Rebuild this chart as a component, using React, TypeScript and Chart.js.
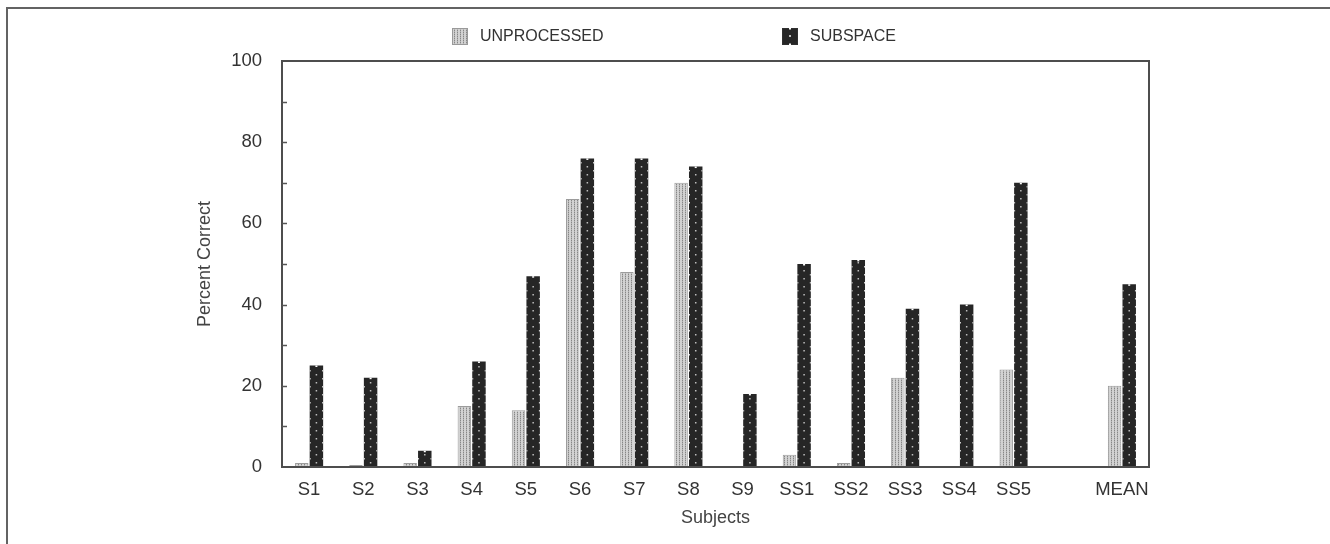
import React, { useEffect, useRef } from 'react';
import { Chart, registerables } from 'chart.js';

Chart.register(...registerables);

const categories = ['S1', 'S2', 'S3', 'S4', 'S5', 'S6', 'S7', 'S8', 'S9', 'SS1', 'SS2', 'SS3', 'SS4', 'SS5', '', 'MEAN'];
const unprocessedValues = [1, 0.5, 1, 15, 14, 66, 48, 70, 0, 3, 1, 22, 0, 24, null, 20];
const subspaceValues = [25, 22, 4, 26, 47, 76, 76, 74, 18, 50, 51, 39, 40, 70, null, 45];
const seriesNames = ['UNPROCESSED', 'SUBSPACE'];
const yTickValues = [0, 20, 40, 60, 80, 100];
const yMinorTickValues = [10, 20, 30, 40, 50, 60, 70, 80, 90];
const yTitle = 'Percent Correct';
const xTitle = 'Subjects';

const FONT = "'Liberation Sans', Arial, Helvetica, sans-serif";

function makeUnprocessedPattern(): CanvasPattern | string {
  const c = document.createElement('canvas');
  c.width = 3;
  c.height = 2;
  const g = c.getContext('2d');
  if (!g) return '#c4c4c4';
  g.fillStyle = '#d2d2d2';
  g.fillRect(0, 0, 3, 2);
  g.fillStyle = '#878787';
  g.fillRect(1, 0, 1, 1);
  g.fillStyle = '#b4b4b4';
  g.fillRect(1, 1, 1, 1);
  return g.createPattern(c, 'repeat') || '#c4c4c4';
}

const SUB_FILL = '#262626';

export default function App() {
  const ref = useRef<HTMLCanvasElement | null>(null);

  useEffect(() => {
    const canvas = ref.current;
    if (!canvas) return;
    const unprocPattern = makeUnprocessedPattern();

    const framePlugin = {
      id: 'framePlugin',
      beforeDraw(chart: any) {
        const ctx = chart.ctx;
        ctx.save();
        ctx.strokeStyle = '#636363';
        ctx.lineWidth = 2;
        ctx.beginPath();
        ctx.moveTo(7, 600);
        ctx.lineTo(7, 8);
        ctx.lineTo(1400, 8);
        ctx.stroke();
        ctx.restore();
      },
      afterDatasetsDraw(chart: any) {
        const ctx = chart.ctx;
        const meta = chart.getDatasetMeta(1);
        ctx.save();
        meta.data.forEach((el: any) => {
          if (el == null || el.y == null || isNaN(el.y)) return;
          const top = Math.min(el.y, el.base);
          const bottom = Math.max(el.y, el.base);
          if (bottom - top < 3) return;
          const left = el.x - el.width / 2;
          const right = el.x + el.width / 2;
          for (let yy = bottom - 5; yy > top + 2; yy -= 8) {
            ctx.fillStyle = '#bdbdbd';
            ctx.fillRect(el.x - 0.75, yy, 1.5, 1.5);
          }
          for (let yy = bottom - 9; yy > top + 2; yy -= 8) {
            ctx.fillStyle = '#d8d8d8';
            ctx.fillRect(left, yy, 1, 1.5);
            ctx.fillRect(right - 1, yy, 1, 1.5);
          }
          ctx.fillStyle = '#ffffff';
          ctx.fillRect(el.x - 1, top, 2, 1.5);
        });
        ctx.restore();
      },
      afterDraw(chart: any) {
        const ctx = chart.ctx;
        const a = chart.chartArea;
        const y = chart.scales.y;
        ctx.save();
        ctx.strokeStyle = '#4d4d4d';
        ctx.lineWidth = 2;
        ctx.strokeRect(a.left, a.top, a.right - a.left, a.bottom - a.top);
        ctx.lineWidth = 1.5;
        ctx.strokeStyle = '#555555';
        yMinorTickValues.forEach((v) => {
          const py = Math.round(y.getPixelForValue(v)) + 0.5;
          ctx.beginPath();
          ctx.moveTo(a.left, py);
          ctx.lineTo(a.left + 5, py);
          ctx.stroke();
        });
        const legendY = 28;
        const items = [
          { x: 452, fill: unprocPattern, border: '#9a9a9a', text: seriesNames[0], tx: 480 },
          { x: 782, fill: SUB_FILL, border: '#303030', text: seriesNames[1], tx: 810 },
        ];
        items.forEach((it, i) => {
          ctx.fillStyle = it.fill as any;
          ctx.fillRect(it.x, legendY, 16, 17);
          ctx.lineWidth = 1;
          ctx.strokeStyle = it.border;
          ctx.strokeRect(it.x + 0.5, legendY + 0.5, 15, 16);
          if (i === 1) {
            ctx.fillStyle = '#bdbdbd';
            ctx.fillRect(it.x + 7, legendY + 7, 2, 2);
            ctx.fillStyle = '#ffffff';
            ctx.fillRect(it.x + 7, legendY, 2, 1.5);
            ctx.fillRect(it.x + 7, legendY + 15.5, 2, 1.5);
          }
          ctx.fillStyle = '#333333';
          ctx.font = `16px ${FONT}`;
          ctx.textBaseline = 'middle';
          ctx.textAlign = 'left';
          ctx.fillText(it.text, it.tx, legendY + 8.5);
        });
        ctx.restore();
      },
    };

    const chart = new Chart(canvas, {
      type: 'bar',
      data: {
        labels: categories,
        datasets: [
          {
            label: seriesNames[0],
            data: unprocessedValues as any,
            backgroundColor: unprocPattern as any,
            borderColor: '#9c9c9c',
            borderWidth: 1,
            categoryPercentage: 0.54,
            barPercentage: 0.92,
          },
          {
            label: seriesNames[1],
            data: subspaceValues as any,
            backgroundColor: SUB_FILL,
            borderColor: '#2a2a2a',
            borderWidth: 0,
            categoryPercentage: 0.54,
            barPercentage: 0.92,
          },
        ],
      },
      options: {
        animation: false,
        responsive: false,
        devicePixelRatio: 1,
        events: [],
        layout: { padding: { left: 190, right: 181, top: 61, bottom: 11 } },
        plugins: {
          legend: { display: false },
          tooltip: { enabled: false },
        },
        scales: {
          x: {
            grid: { display: false, drawTicks: false },
            border: { display: false },
            ticks: {
              padding: 12,
              color: '#333333',
              font: { family: FONT, size: 18.5 },
              maxRotation: 0,
              autoSkip: false,
            },
            title: {
              display: true,
              text: xTitle,
              color: '#444444',
              font: { family: FONT, size: 18 },
              padding: { top: 0, bottom: 4 },
            },
            afterFit: (s: any) => {
              s.height = 66;
            },
          },
          y: {
            min: 0,
            max: 100,
            grid: { display: false, drawTicks: false },
            border: { display: false },
            afterBuildTicks: (s: any) => {
              s.ticks = yTickValues.map((v) => ({ value: v }));
            },
            ticks: {
              padding: 20,
              color: '#333333',
              font: { family: FONT, size: 18.5 },
            },
            title: {
              display: true,
              text: yTitle,
              color: '#444444',
              font: { family: FONT, size: 18 },
              padding: { top: 4, bottom: 4 },
            },
            afterFit: (s: any) => {
              s.width = 92;
            },
          },
        },
      },
      plugins: [framePlugin],
    });

    return () => {
      chart.destroy();
    };
  }, []);

  return (
    <div style={{ position: 'absolute', left: 0, top: 0, width: 1330, height: 544, background: '#ffffff' }}>
      <canvas ref={ref} width={1330} height={544} style={{ display: 'block', width: 1330, height: 544 }} />
    </div>
  );
}
